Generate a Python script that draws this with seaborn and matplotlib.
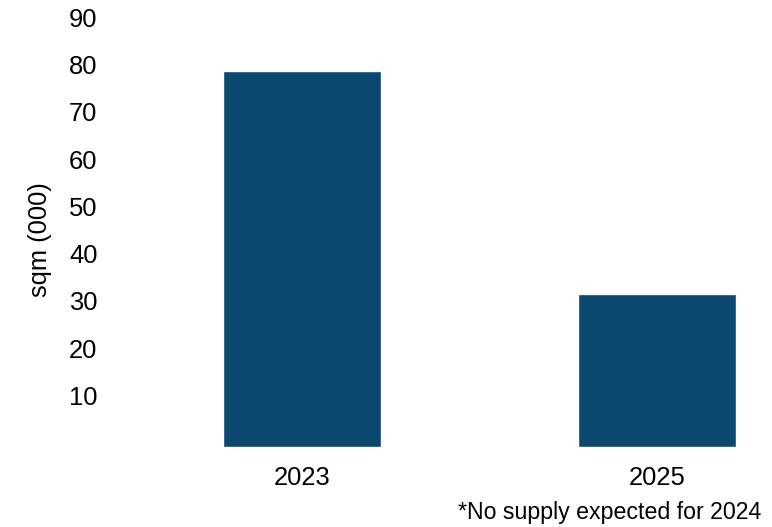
import matplotlib
matplotlib.use("Agg")
import matplotlib.pyplot as plt
import matplotlib.transforms as mtransforms
import seaborn as sns
import pandas as pd

years = ["2023", "2025"]
supply = [79.7, 32.4]
y_ticks = [10, 20, 30, 40, 50, 60, 70, 80, 90]
y_label = "sqm (000)"
footnote = "*No supply expected for 2024"
bar_color = "#0b4870"

sns.set_theme(style="white")
plt.rcParams["font.family"] = ["Liberation Sans", "DejaVu Sans"]

df = pd.DataFrame({"year": years, "supply": supply})

fig = plt.figure(figsize=(7.72, 5.27), dpi=100)
ax = fig.add_axes([124.5 / 772, 80 / 527, 1 - 124.5 / 772, 425 / 527])

sns.barplot(data=df, x="year", y="supply", color=bar_color, saturation=1,
            width=0.445, ax=ax)

ax.set_xlim(-0.5, 1.324)
ax.set_ylim(0, 90)
ax.set_yticks(y_ticks)
ax.set_yticklabels([str(t) for t in y_ticks])
ax.tick_params(axis="y", length=0, pad=19.5, labelsize=18.4, colors="black")
ax.tick_params(axis="x", length=0, pad=14, labelsize=18.4, colors="black")
ax.set_xlabel("")
ax.set_ylabel(y_label, fontsize=18.4, color="black")
ax.yaxis.set_label_coords(-0.112, 0.487)
for s in ax.spines.values():
    s.set_visible(False)
ax.grid(False)

shift = mtransforms.ScaledTranslation(0, 4.5 / 100, fig.dpi_scale_trans)
for tick in ax.yaxis.get_major_ticks():
    tick.label1.set_transform(tick.label1.get_transform() + shift)

fig.text(761 / 772, 8 / 527, footnote, ha="right", va="baseline",
         fontsize=16.7, color="black")

fig.savefig("out.png", dpi=100)
